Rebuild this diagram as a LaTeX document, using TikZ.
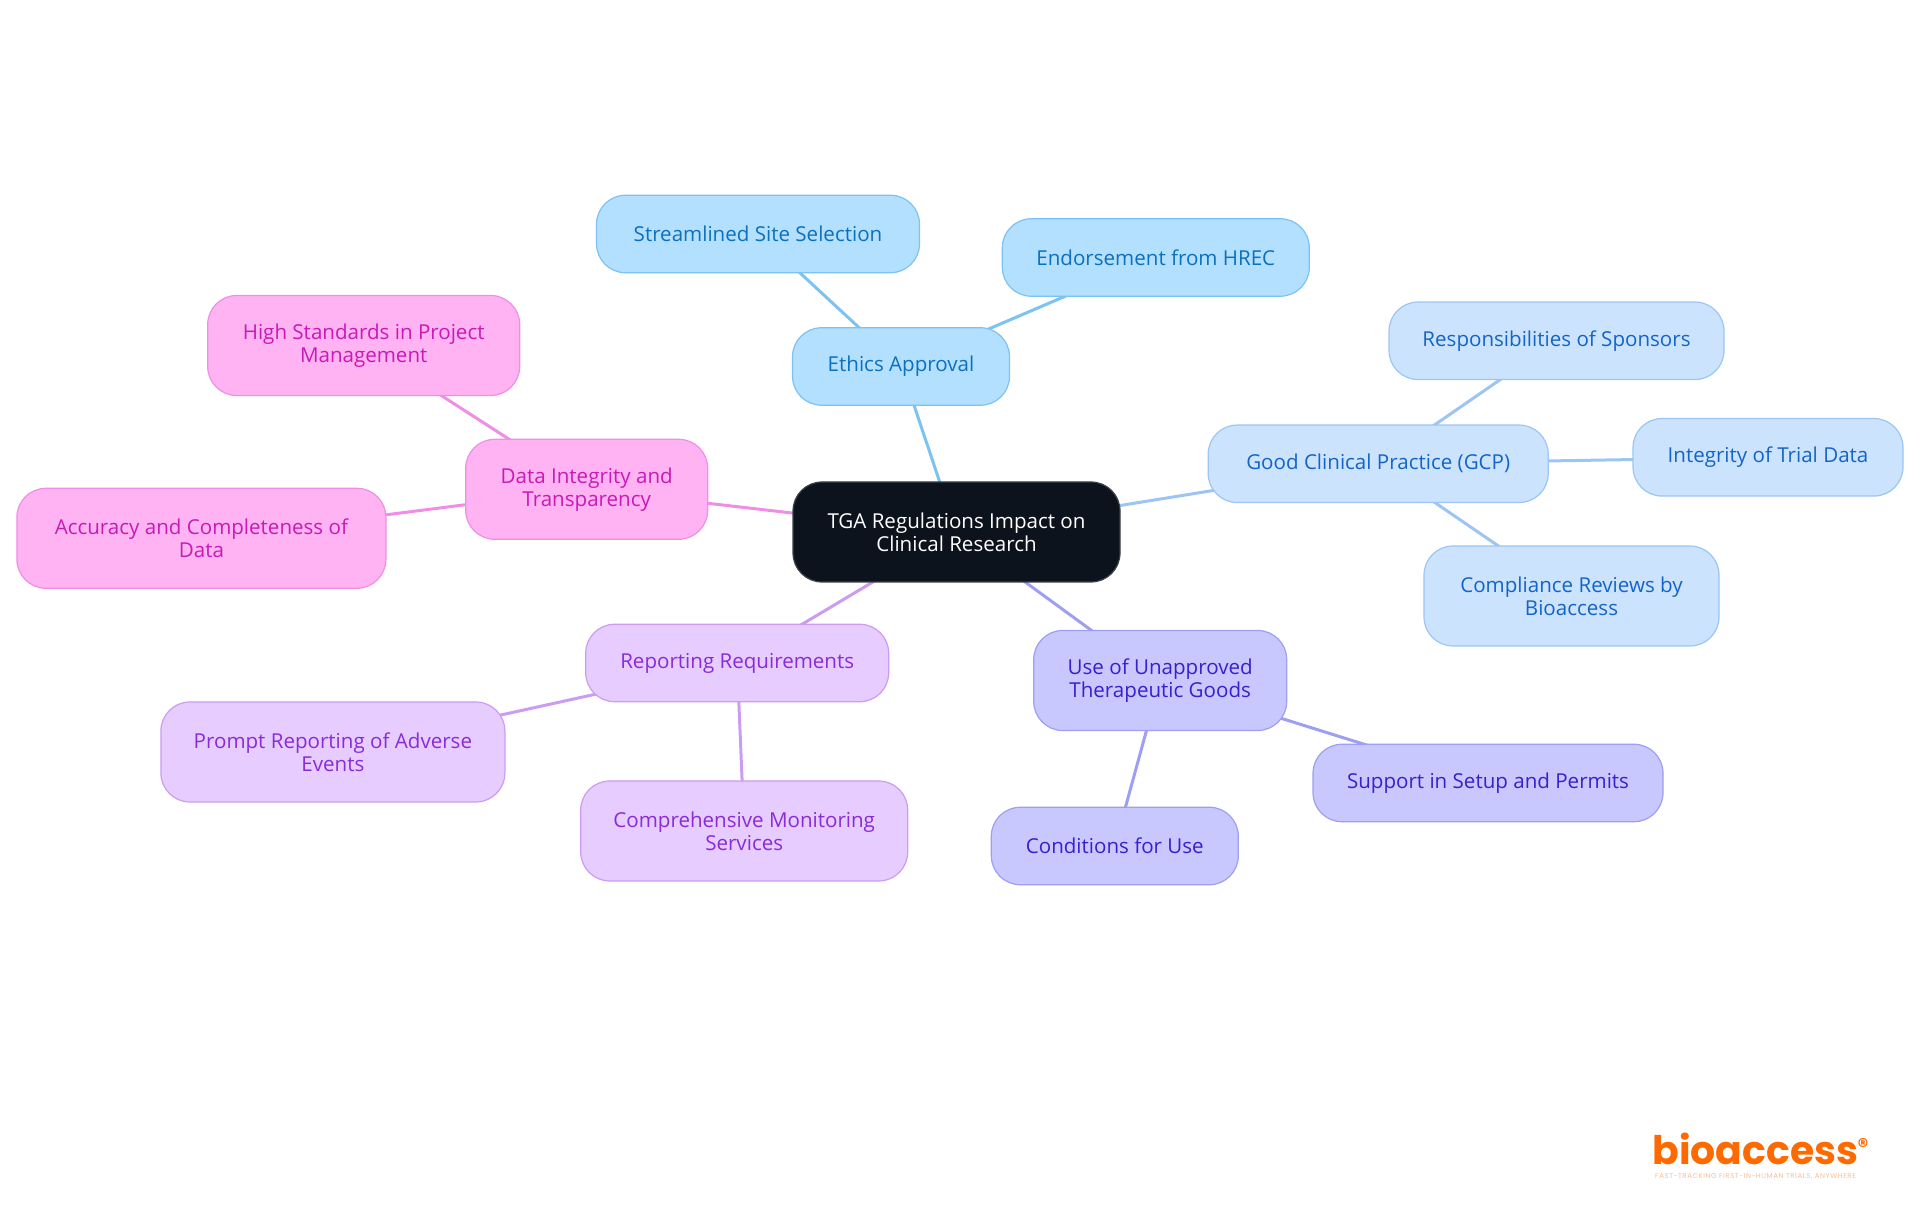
\documentclass[tikz,border=0pt]{standalone}
\usepackage{fontspec}
\setmainfont{Open Sans}
\newfontfamily\logofont{Poppins}
\newfontfamily\taglinefont[LetterSpace=8]{Poppins}
\usetikzlibrary{%
  backgrounds,%
  positioning%
}
\definecolor{rootfill}{HTML}{0D131C}
\definecolor{ethicsfill}{HTML}{B3E0FF}
\definecolor{ethicsline}{HTML}{7CC2F2}
\definecolor{ethicstext}{HTML}{0B70BF}
\definecolor{gcpfill}{HTML}{CCE3FD}
\definecolor{gcpline}{HTML}{9CC5F5}
\definecolor{gcptext}{HTML}{1464C8}
\definecolor{goodsfill}{HTML}{C8C8FF}
\definecolor{goodsline}{HTML}{9E9EF2}
\definecolor{goodstext}{HTML}{3A1FCC}
\definecolor{reportfill}{HTML}{E6CCFF}
\definecolor{reportline}{HTML}{CB9CF2}
\definecolor{reporttext}{HTML}{8A2BD9}
\definecolor{datafill}{HTML}{FFB3F2}
\definecolor{dataline}{HTML}{F08EE6}
\definecolor{datatext}{HTML}{C81AB4}
\definecolor{logoorange}{HTML}{FF6A00}

\begin{document}
\begin{tikzpicture}
[font=\fontsize{5.85}{6.5}\selectfont, line width=0.012cm,
box/.style={rectangle, rounded corners=0.29cm, align=center, inner sep=0pt},
oneline/.style={box, minimum height=0.775cm},
twoline/.style={box, minimum height=1.0cm},
root/.style={box, minimum height=1.0cm, draw=rootfill!80!white, fill=rootfill, text=white},
ethics/.style={draw=ethicsline, fill=ethicsfill, text=ethicstext},
gcp/.style={draw=gcpline, fill=gcpfill, text=gcptext},
goods/.style={draw=goodsline, fill=goodsfill, text=goodstext},
report/.style={draw=reportline, fill=reportfill, text=reporttext},
data/.style={draw=dataline, fill=datafill, text=datatext},
link/.style={line width=0.03cm}]

\useasboundingbox (0,0) rectangle (19.2,12.15);

\node[root, minimum width=3.27cm] (tga) at (9.565,6.83) {TGA Regulations Impact on\\Clinical Research};

\node[oneline, ethics, minimum width=2.17cm] (approval) at (9.01,8.485) {Ethics Approval};
\node[oneline, ethics, minimum width=3.23cm] (site) at (7.58,9.81) {Streamlined Site Selection};
\node[oneline, ethics, minimum width=3.07cm] (hrec) at (11.558,9.575) {Endorsement from HREC};

\node[oneline, gcp, minimum width=3.40cm] (practice) at (13.782,7.512) {Good Clinical Practice (GCP)};
\node[oneline, gcp, minimum width=3.35cm] (sponsors) at (15.565,8.742) {Responsibilities of Sponsors};
\node[oneline, gcp, minimum width=2.70cm] (trialdata) at (17.68,7.577) {Integrity of Trial Data};
\node[twoline, gcp, minimum width=2.95cm] (reviews) at (15.715,6.19) {Compliance Reviews by\\Bioaccess};

\node[twoline, goods, minimum width=2.53cm] (unapproved) at (11.602,5.345) {Use of Unapproved\\Therapeutic Goods};
\node[oneline, goods, minimum width=3.50cm] (permits) at (14.88,4.32) {Support in Setup and Permits};
\node[oneline, goods, minimum width=2.47cm] (conditions) at (11.148,3.69) {Conditions for Use};

\node[oneline, report, minimum width=3.03cm] (reporting) at (7.372,5.52) {Reporting Requirements};
\node[twoline, report, minimum width=3.44cm] (adverse) at (3.329,4.63) {Prompt Reporting of Adverse\\Events};
\node[twoline, report, minimum width=3.27cm] (monitoring) at (7.442,3.84) {Comprehensive Monitoring\\Services};

\node[twoline, data, minimum width=2.42cm] (integrity) at (5.867,7.257) {Data Integrity and\\Transparency};
\node[twoline, data, minimum width=3.12cm] (standards) at (3.637,8.695) {High Standards in Project\\Management};
\node[twoline, data, minimum width=3.69cm] (accuracy) at (2.014,6.767) {Accuracy and Completeness of\\Data};

\begin{scope}[on background layer]
\foreach \a/\b in {tga/approval, approval/site, approval/hrec} {
  \draw[link, ethicsline] (\a.center) -- (\b.center);
}
\foreach \a/\b in {tga/practice, practice/sponsors, practice/trialdata, practice/reviews} {
  \draw[link, gcpline] (\a.center) -- (\b.center);
}
\foreach \a/\b in {tga/unapproved, unapproved/permits, unapproved/conditions} {
  \draw[link, goodsline] (\a.center) -- (\b.center);
}
\foreach \a/\b in {tga/reporting, reporting/adverse, reporting/monitoring} {
  \draw[link, reportline] (\a.center) -- (\b.center);
}
\foreach \a/\b in {tga/integrity, integrity/standards, integrity/accuracy} {
  \draw[link, dataline] (\a.center) -- (\b.center);
}
\end{scope}

% logo
\node[inner sep=0pt, text=logoorange, font=\logofont\bfseries\fontsize{11.2}{11.2}\selectfont] (logo) at (17.555,0.66) {bioaccess};
\node[inner sep=0pt, text=logoorange, font=\logofont\bfseries\fontsize{6}{6}\selectfont, right=-0.02cm of logo.north east, yshift=-0.13cm] (logoreg) {\textregistered};
\node[inner sep=0pt, text=logoorange!45!white, font=\taglinefont\fontsize{2}{2}\selectfont] (tagline) at (17.555,0.38) {FAST-TRACKING FIRST-IN-HUMAN TRIALS, ANYWHERE};

\end{tikzpicture}
\end{document}
